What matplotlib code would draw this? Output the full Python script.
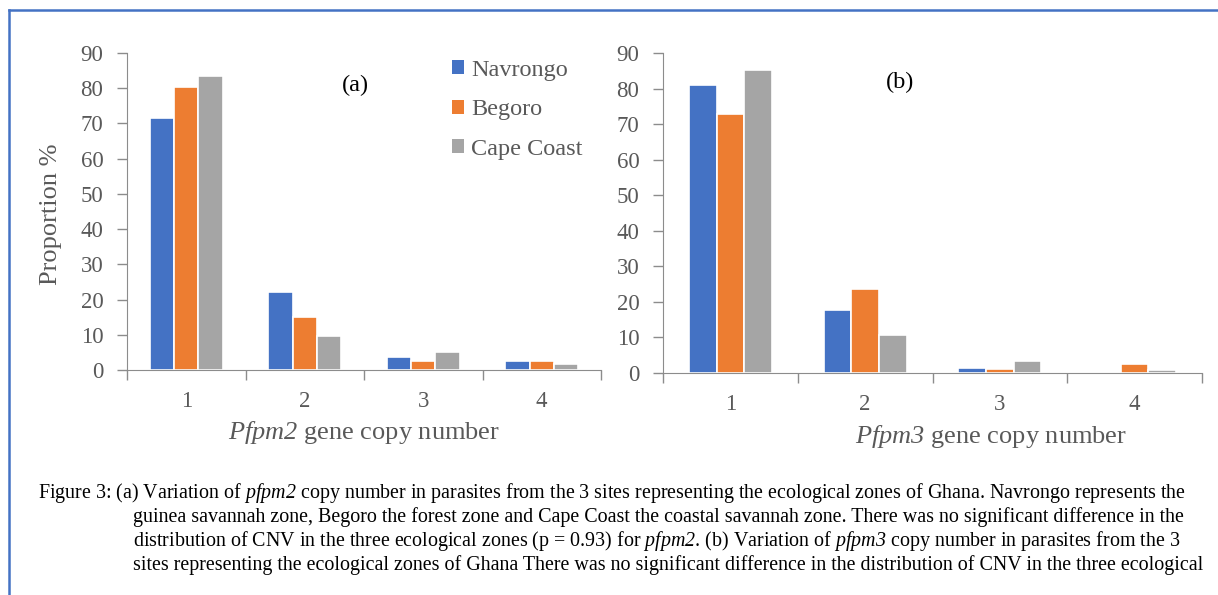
import numpy as np
import matplotlib
matplotlib.use("Agg")
from matplotlib import pyplot as plt
from matplotlib.patches import Patch
from matplotlib.lines import Line2D

plt.rcParams['font.family'] = 'Liberation Serif'
plt.rcParams['mathtext.fontset'] = 'custom'
# mathtext is only used for the italic gene names, digits included
plt.rcParams['mathtext.rm'] = 'Liberation Serif:italic'
plt.rcParams['mathtext.it'] = 'Liberation Serif:italic'

copies = ['1', '2', '3', '4']
sites = ['Navrongo', 'Begoro', 'Cape Coast']
colors = ['#4472C4', '#ED7D31', '#A5A5A5']

pfpm2_navrongo = [71.6, 22.2, 3.8, 2.5]
pfpm2_begoro = [80.3, 15.1, 2.5, 2.5]
pfpm2_cape = [83.6, 9.7, 5.0, 1.7]

pfpm3_navrongo = [80.9, 17.6, 1.3, 0.0]
pfpm3_begoro = [72.8, 23.5, 1.1, 2.5]
pfpm3_cape = [85.2, 10.8, 3.3, 0.8]

axis_grey = '#8C8C8C'
text_grey = '#595959'

fig = plt.figure(figsize=(12.18, 5.95), dpi=100)
ax1 = fig.add_axes([127/1218, 1-370/595, 474/1218, 317/595])
ax2 = fig.add_axes([663/1218, 1-373/595, 539/1218, 320/595])


def draw(ax, series):
    x = np.arange(len(copies))
    w = 0.205
    for i, vals in enumerate(series):
        ax.bar(x + (i-1)*w, vals, w, color=colors[i], edgecolor='white', linewidth=1.2, zorder=2)
    ax.set_xlim(-0.5, 3.5)
    ax.set_ylim(0, 90)
    ax.set_yticks(range(0, 91, 10))
    ax.set_xticks(np.arange(-0.5, 4, 1))
    ax.set_xticklabels([])
    ax.set_xticks(x, minor=True)
    ax.set_xticklabels(copies, minor=True)
    ax.tick_params(axis='x', which='major', length=7, width=1, color=axis_grey, direction='out')
    ax.tick_params(axis='x', which='minor', length=0, pad=15, labelsize=16.5, labelcolor=text_grey)
    ax.tick_params(axis='y', length=7, width=1, color=axis_grey, pad=10, labelsize=16.5, labelcolor=text_grey)
    for s in ['top', 'right']:
        ax.spines[s].set_visible(False)
    ax.spines['left'].set_color(axis_grey)
    ax.spines['bottom'].set_color(axis_grey)
    ax.spines['bottom'].set_zorder(3)


draw(ax1, [pfpm2_navrongo, pfpm2_begoro, pfpm2_cape])
draw(ax2, [pfpm3_navrongo, pfpm3_begoro, pfpm3_cape])

fig.text(364/1218, 1-432/595, r'$Pfpm2$ gene copy number', fontsize=19,
         color=text_grey, ha='center', va='center')
fig.text(991/1218, 1-437/595, r'$Pfpm3$ gene copy number', fontsize=19,
         color=text_grey, ha='center', va='center')
fig.text(51/1218, 1-214/595, 'Proportion %', fontsize=19, color=text_grey,
         rotation=90, ha='center', va='center')

fig.text(355/1218, 1-85/595, '(a)', fontsize=17.5, color='black', ha='center', va='center')
fig.text(900/1218, 1-82/595, '(b)', fontsize=17.5, color='black', ha='center', va='center')

handles = [Patch(facecolor=c, edgecolor='none') for c in colors]
fig.legend(handles, sites, loc='upper left', bbox_to_anchor=(452/1218, 1-60/595),
           frameon=False, fontsize=17.5, labelcolor=text_grey, handlelength=0.5,
           handleheight=0.5, handletextpad=0.3, labelspacing=0.76, borderpad=0,
           borderaxespad=0)

# blue frame of the figure box
fig.add_artist(Line2D([9/1218, 1], [1-10/595, 1-10/595], color='#4472C4', lw=1.8))
fig.add_artist(Line2D([9/1218, 9/1218], [0, 1-10/595], color='#4472C4', lw=1.8))

cap = 14.4
x0 = 38/1218
x1 = 133/1218
lines = [
    (x0, 493, r'Figure 3: (a) Variation of $pfpm2$ copy number in parasites from the 3 sites representing the ecological zones of Ghana. Navrongo represents the'),
    (x1, 517, 'guinea savannah zone, Begoro the forest zone and Cape Coast the coastal savannah zone. There was no significant difference in the'),
    (x1, 541, r'distribution of CNV in the three ecological zones (p = 0.93) for $pfpm2$. (b) Variation of $pfpm3$ copy number in parasites from the 3'),
    (x1, 565, 'sites representing the ecological zones of Ghana There was no significant difference in the distribution of CNV in the three ecological'),
]
for xx, yy, t in lines:
    fig.text(xx, 1-yy/595, t, fontsize=cap, color='black', ha='left', va='center')

plt.savefig('out.png', dpi=100)
